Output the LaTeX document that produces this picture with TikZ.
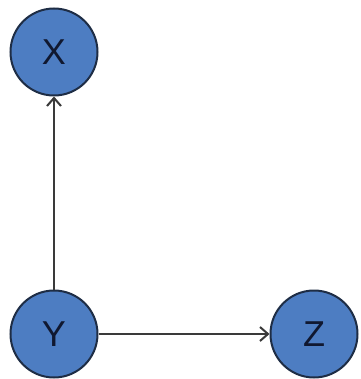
\documentclass[tikz,border=0pt]{standalone}
\usepackage{fontspec}
\setmainfont{Liberation Sans}
\usetikzlibrary{arrows.meta}
\definecolor{nodefill}{HTML}{4D7DC2}
\definecolor{nodeborder}{HTML}{1E2D45}
\definecolor{edgecol}{HTML}{3A3A3A}
\definecolor{textcol}{HTML}{101830}
\begin{document}
\begin{tikzpicture}[x=1pt,y=-1pt,
  var/.style={circle,draw=nodeborder,fill=nodefill,line width=2pt,minimum size=87pt,inner sep=0pt,font=\fontsize{36}{36}\selectfont,text=textcol},
  edge/.style={draw=edgecol,line width=2.4pt,-{Straight Barb[length=8pt,width=14pt,line width=2pt]}}]
\useasboundingbox (0,0) rectangle (360,379);
\node[var] (X) at (54,52) {X};
\node[var] (Y) at (54,334) {Y};
\node[var] (Z) at (314,334) {Z};
\draw[edge] (Y) -- (X);
\draw[edge] (Y) -- (Z);
\end{tikzpicture}
\end{document}
